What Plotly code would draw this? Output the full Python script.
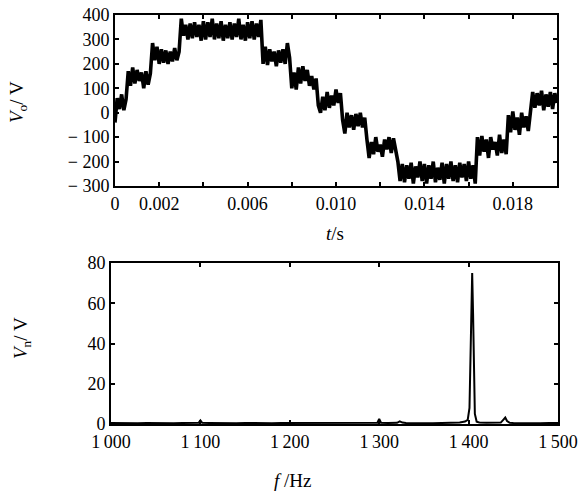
import plotly.graph_objects as go

# ---------------- data ----------------
# Output voltage samples, one every 0.0001 s from 0 to 0.020 s (201 samples)
t_step = 0.0001
v_o = [
    -40, 60, 15, 75, 10, 55,
    170, 110, 185, 120, 175, 130, 165, 100, 170, 115, 160,
    285, 215, 270, 200, 260, 205, 255, 200, 250, 210, 265, 215, 250,
    385, 315, 360, 300, 365, 305, 370, 310, 360, 295, 375, 300, 370, 310, 385, 300, 365, 305, 375, 295,
    360, 305, 370, 300, 365, 310, 385, 300, 360, 295, 370, 305, 375, 300, 365, 310, 380,
    200, 270, 195, 260, 210, 250, 190, 255, 205, 260, 200, 285, 225,
    100, 165, 95, 185, 120, 190, 130, 175, 110, 150, 95, 140,
    30, 0, 65, 10, 85, 20, 70, 30, 95, 40, 80,
    -30, -85, 0, -60, -10, -70, -5, -55, 0, -60, -20,
    -110, -185, -120, -170, -100, -160, -130, -180, -110, -150, -100, -165, -105, -150,
    -200, -280, -210, -285, -215, -270, -205, -290, -220, -265, -200, -280, -210, -290, -215, -270,
    -200, -285, -225, -275, -205, -290, -210, -270, -200, -280, -215, -285, -205, -265, -210, -280,
    -200, -270, -215, -290,
    -100, -175, -95, -160, -110, -185, -100, -150, -120, -175, -90, -165, -110, -170,
    -10, -80, 5, -70, -20, -90, 0, -60, -15, -75, -5,
    85, 20, 80, 30, 90, 10, 75, 25, 85, 15, 80, 40,
]
t_s = [round(i * t_step, 5) for i in range(len(v_o))]

# Spectrum
f_hz = [1000, 1010, 1020, 1030, 1040, 1050, 1060, 1070, 1080, 1090, 1098, 1100, 1102,
        1110, 1120, 1130, 1140, 1150, 1160, 1170, 1180, 1190, 1200, 1210, 1220, 1230,
        1240, 1250, 1260, 1270, 1280, 1290, 1298, 1300, 1302, 1310, 1320, 1323, 1326,
        1330, 1340, 1350, 1360, 1370, 1380, 1390, 1396, 1399, 1401, 1402, 1403, 1404,
        1405, 1406, 1407, 1409, 1412, 1420, 1430, 1436, 1439, 1441, 1443, 1446, 1450,
        1460, 1470, 1480, 1490, 1500]
v_n = [0.5, 0.4, 0.5, 0.4, 0.5, 0.4, 0.5, 0.4, 0.5, 0.5, 0.6, 1.8, 0.6,
       0.5, 0.4, 0.5, 0.4, 0.5, 0.4, 0.5, 0.4, 0.5, 0.5, 0.4, 0.5, 0.4,
       0.5, 0.4, 0.5, 0.4, 0.5, 0.5, 0.6, 2.5, 0.6, 0.5, 0.6, 1.3, 0.7,
       0.5, 0.4, 0.5, 0.4, 0.5, 0.6, 0.8, 1.2, 2.0, 8.0, 30.0, 60.0, 75.0,
       55.0, 20.0, 5.0, 1.2, 0.8, 0.6, 0.5, 0.7, 2.2, 3.2, 1.5, 0.6, 0.5,
       0.4, 0.5, 0.4, 0.5, 0.5]

# Tick labels
t_tickvals = [0, 0.002, 0.004, 0.006, 0.008, 0.010, 0.012, 0.014, 0.016, 0.018, 0.020]
t_ticktext = ["0", "0.002", "", "0.006", "", "0.010", "", "0.014", "", "0.018", ""]
v_tickvals = [-300, -200, -100, 0, 100, 200, 300, 400]
v_ticktext = ["\u2212 300", "\u2212 200", "\u2212 100", "0", "100", "200", "300", "400"]
f_tickvals = [1000, 1100, 1200, 1300, 1400, 1500]
f_ticktext = ["1\u2009000", "1\u2009100", "1\u2009200", "1\u2009300", "1\u2009400", "1\u2009500"]
n_tickvals = [0, 20, 40, 60, 80]
n_ticktext = ["0", "20", "40", "60", "80"]

# ---------------- figure ----------------
FONT = "Liberation Serif"
W, H = 587, 492

fig = go.Figure()
fig.add_trace(go.Scatter(x=t_s, y=v_o, mode="lines", xaxis="x", yaxis="y",
                         line=dict(color="black", width=3.6), showlegend=False))
fig.add_trace(go.Scatter(x=f_hz, y=v_n, mode="lines", xaxis="x2", yaxis="y2",
                         line=dict(color="black", width=2), showlegend=False))

axis_common = dict(showline=True, linecolor="black", linewidth=2, mirror="ticks",
                   ticks="inside", ticklen=4, tickwidth=1.5, tickcolor="black",
                   showgrid=False, zeroline=False, automargin=False,
                   tickfont=dict(family=FONT, size=18, color="black"))

fig.update_layout(
    width=W, height=H,
    margin=dict(l=0, r=0, t=0, b=0, autoexpand=False),
    paper_bgcolor="white", plot_bgcolor="white",
    xaxis=dict(domain=[115 / W, 557 / W], anchor="y", range=[0, 0.020],
               tickmode="array", tickvals=t_tickvals, ticktext=t_ticktext, **axis_common),
    yaxis=dict(domain=[1 - 186 / H, 1 - 15 / H], anchor="x", range=[-300, 400],
               tickmode="array", tickvals=v_tickvals, ticktext=v_ticktext, **axis_common),
    xaxis2=dict(domain=[111 / W, 558 / W], anchor="y2", range=[1000, 1500],
                tickmode="array", tickvals=f_tickvals, ticktext=f_ticktext, **axis_common),
    yaxis2=dict(domain=[1 - 424 / H, 1 - 263 / H], anchor="x2", range=[0, 80],
                tickmode="array", tickvals=n_tickvals, ticktext=n_ticktext, **axis_common),
)

ann_font = dict(family=FONT, size=19, color="black")
fig.add_annotation(text="<i>t</i>/s", x=335 / W, y=1 - 233 / H, xref="paper", yref="paper",
                   showarrow=False, font=ann_font, xanchor="center", yanchor="middle")
fig.add_annotation(text="<i>f</i> /Hz", x=292 / W, y=1 - 480 / H, xref="paper", yref="paper",
                   showarrow=False, font=ann_font, xanchor="center", yanchor="middle")
fig.add_annotation(text="<i>V</i><sub>o</sub>/ V", x=18 / W, y=1 - 102 / H, xref="paper", yref="paper",
                   showarrow=False, font=ann_font, textangle=-90, xanchor="center", yanchor="middle")
fig.add_annotation(text="<i>V</i><sub>n</sub>/ V", x=22 / W, y=1 - 338 / H, xref="paper", yref="paper",
                   showarrow=False, font=ann_font, textangle=-90, xanchor="center", yanchor="middle")

fig.write_html(
    "out.html",
    config={"displayModeBar": False},
    post_script="document.body.style.margin='0';document.body.style.overflow='hidden';",
)
